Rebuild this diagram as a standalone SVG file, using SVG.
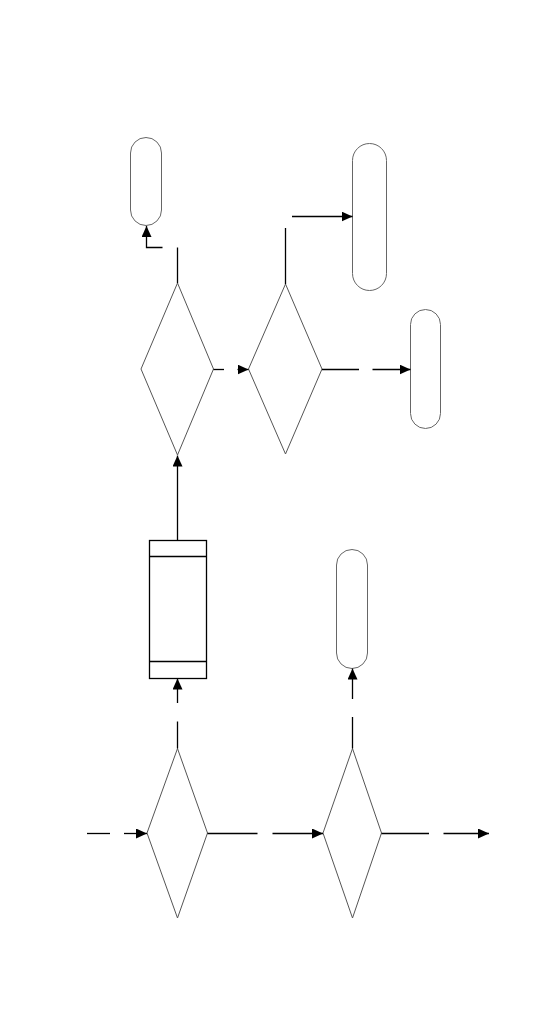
<svg xmlns="http://www.w3.org/2000/svg" width="540" height="1026" viewBox="0 0 540 1026">
<style>
.pill{fill:#fff;stroke:#666;stroke-width:1}
.dia{fill:#fff;stroke:#555;stroke-width:1}
.box{fill:#fff;stroke:#000;stroke-width:1.3}
.c{fill:none;stroke:#000;stroke-width:1.3}
</style>
<defs>
<marker id="ah" markerUnits="userSpaceOnUse" markerWidth="11" markerHeight="10" refX="11" refY="5" orient="auto" viewBox="0 0 11 10">
<path d="M0,0 L11,5 L0,10 z" fill="#000"/>
</marker>
</defs>
<rect width="540" height="1026" fill="#fff"/>
<g id="pill1"><rect class="pill" x="130.5" y="137.5" width="31" height="88" rx="15.5"/></g>
<g id="pill2"><rect class="pill" x="352.5" y="143.5" width="34" height="147" rx="17"/></g>
<g id="pill3"><rect class="pill" x="410.5" y="309.5" width="30" height="119" rx="15"/></g>
<g id="pill4"><rect class="pill" x="336.5" y="549.5" width="31" height="119" rx="15.5"/></g>
<g id="decision1"><polygon class="dia" points="177.5,283 213.5,369 177.5,455 141,369"/></g>
<g id="decision2"><polygon class="dia" points="285.5,284 322,369 285.5,454 248.5,369"/></g>
<g id="process1">
<rect class="box" x="149.5" y="540.5" width="57" height="138"/>
<line class="box" x1="149.5" y1="556.5" x2="206.5" y2="556.5"/>
<line class="box" x1="149.5" y1="661.5" x2="206.5" y2="661.5"/>
</g>
<g id="decision3"><polygon class="dia" points="177.5,748.5 207.5,833 177.5,918 147,833"/></g>
<g id="decision4"><polygon class="dia" points="352.5,748.5 381.5,833 352.5,918 323,833"/></g>
<g id="connectors">
<line class="c" x1="177.5" y1="283" x2="177.5" y2="247.5"/>
<polyline class="c" points="162.5,247.5 146.5,247.5 146.5,226" marker-end="url(#ah)"/>
<line class="c" x1="285.5" y1="284" x2="285.5" y2="228"/>
<line class="c" x1="292" y1="216.5" x2="352.5" y2="216.5" marker-end="url(#ah)"/>
<line class="c" x1="213.5" y1="369.5" x2="224" y2="369.5"/>
<line class="c" x1="237.5" y1="369.5" x2="248.5" y2="369.5" marker-end="url(#ah)"/>
<line class="c" x1="322" y1="369.5" x2="359" y2="369.5"/>
<line class="c" x1="372.5" y1="369.5" x2="410.5" y2="369.5" marker-end="url(#ah)"/>
<line class="c" x1="177.5" y1="540.5" x2="177.5" y2="455.5" marker-end="url(#ah)"/>
<line class="c" x1="177.5" y1="703" x2="177.5" y2="678.5" marker-end="url(#ah)"/>
<line class="c" x1="177.5" y1="748.5" x2="177.5" y2="721.5"/>
<line class="c" x1="352.5" y1="699" x2="352.5" y2="668.5" marker-end="url(#ah)"/>
<line class="c" x1="352.5" y1="748.5" x2="352.5" y2="717"/>
<line class="c" x1="87" y1="833.5" x2="110" y2="833.5"/>
<line class="c" x1="124" y1="833.5" x2="147" y2="833.5" marker-end="url(#ah)"/>
<line class="c" x1="207.5" y1="833.5" x2="257.5" y2="833.5"/>
<line class="c" x1="272.5" y1="833.5" x2="323" y2="833.5" marker-end="url(#ah)"/>
<line class="c" x1="381.5" y1="833.5" x2="429" y2="833.5"/>
<line class="c" x1="443.5" y1="833.5" x2="489" y2="833.5" marker-end="url(#ah)"/>
</g>
</svg>
